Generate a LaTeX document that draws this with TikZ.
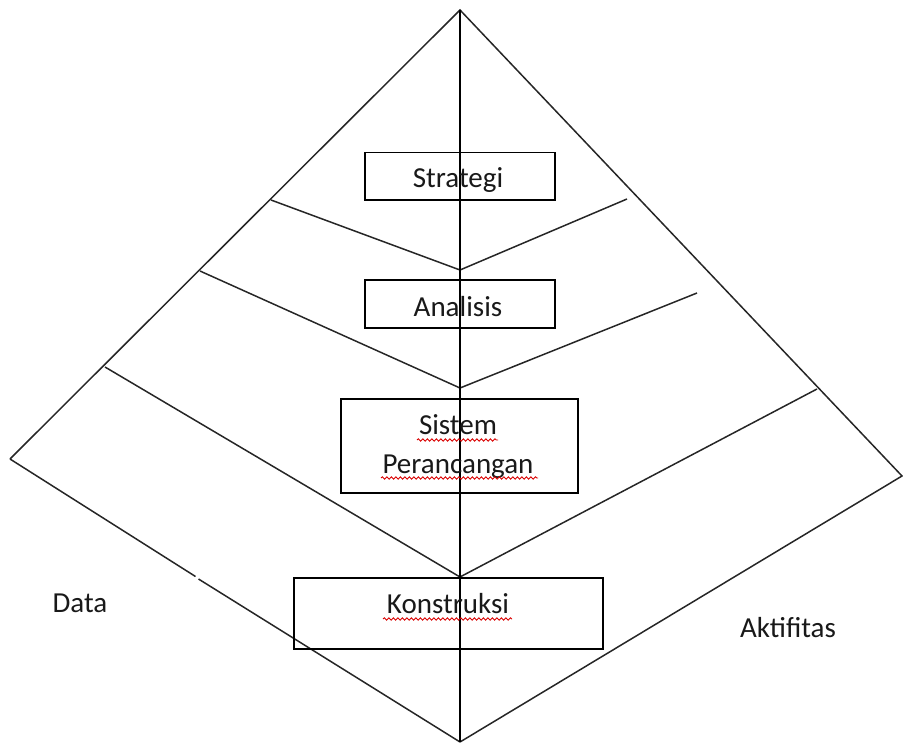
\documentclass[tikz,border=0pt]{standalone}
\usepackage{fontspec}
\setmainfont{Carlito}
\usetikzlibrary{decorations.pathmorphing}
\tikzset{
  edge/.style={draw=black!85, line width=1.5pt},
  axis/.style={draw=black, line width=1.7pt},
  boxnode/.style={draw=black, line width=1.6pt, rectangle, inner sep=0pt, fill=none},
  lbl/.style={font=\fontsize{29}{34}\selectfont, text=black!90, inner sep=0pt, anchor=base},
  squiggle/.style={draw=red!85!black, line width=0.9pt, decorate, decoration={snake, segment length=4.5pt, amplitude=1.2pt}}
}
\begin{document}
\begin{tikzpicture}[x=1pt, y=-1pt]
\useasboundingbox (0,0) rectangle (903,743);
% outline points
\coordinate (top) at (460,10);
\coordinate (bot) at (460,742);
\coordinate (lv) at (10,459);
\coordinate (rv) at (902,476);
\coordinate (gapA) at (195.5,576.5);
\coordinate (gapB) at (198.5,579);
% chevron points
\coordinate (l1) at (271,200);
\coordinate (c1) at (460,270);
\coordinate (r1) at (627,199);
\coordinate (l2) at (200,271);
\coordinate (c2) at (460,388);
\coordinate (r2) at (697,293);
\coordinate (l3) at (105,367);
\coordinate (c3) at (460,577);
\coordinate (r3) at (817,389);
% pyramid outline
\draw[edge] (lv) -- (top) -- (rv) -- (bot);
\draw[edge] (lv) -- (gapA);
\draw[edge] (gapB) -- (bot);
% chevrons
\draw[edge] (l1) -- (c1) -- (r1);
\draw[edge] (l2) -- (c2) -- (r2);
\draw[edge] (l3) -- (c3) -- (r3);
% boxes
\node[boxnode, minimum width=190pt, minimum height=47.5pt] (bstrat) at (460,176.3) {};
\node[boxnode, minimum width=190pt, minimum height=47.5pt] (banal) at (460,304) {};
\node[boxnode, minimum width=237pt, minimum height=94pt] (bsis) at (459.5,446) {};
\node[boxnode, minimum width=309pt, minimum height=71pt] (bkon) at (448.5,613.7) {};
% central axis
\draw[axis] (top) -- (bot);
% texts
\node[lbl] (tstrat) at (458,188) {Strategi};
\node[lbl] (tanal) at (458,316.5) {Analisis};
\node[lbl] (tsis) at (458,435) {Sistem};
\node[lbl] (tper) at (458,473) {Perancangan};
\node[lbl] (tkon) at (448,613) {Konstruksi};
\node[lbl] (tdata) at (80,612) {Data};
\node[lbl] (takt) at (788,637) {Aktifitas};
% spell-check underlines
\draw[squiggle] (417,440) -- (498,440);
\draw[squiggle] (381,478) -- (538,478);
\draw[squiggle] (383,619) -- (512,619);
\end{tikzpicture}
\end{document}
